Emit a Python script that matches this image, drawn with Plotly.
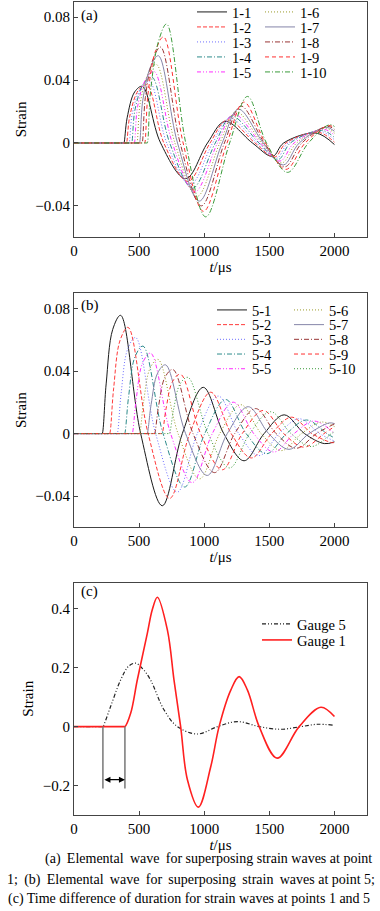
import plotly.graph_objects as go

W, H = 380, 911
FONT = "Liberation Serif"

# ---------------- Panel (a): elemental waves at point 1 ----------------
a_names = ["1-1", "1-2", "1-3", "1-4", "1-5", "1-6", "1-7", "1-8", "1-9", "1-10"]
a_t1 = [0, 380, 383, 408, 466, 525, 665, 858, 1025, 1160, 1370, 1525, 1610, 1858, 2000]
a_v1 = [0, 0, 0, 0.016, 0.0325, 0.036, 0, -0.0227, 0, 0.0137, 0, -0.0085, 0, 0.0063, -0.001]
a_t2 = [0, 400, 403, 428, 494, 560, 690, 875, 1045, 1178, 1390, 1540, 1628, 1875, 2000]
a_v2 = [0, 0, 0, 0.017, 0.0335, 0.037, 0, -0.0245, 0, 0.0147, 0, -0.009, 0, 0.0068, 0.0005]
a_t3 = [0, 420, 423, 448, 514, 580, 712, 892, 1065, 1195, 1405, 1555, 1645, 1890, 2000]
a_v3 = [0, 0, 0, 0.019, 0.035, 0.039, 0, -0.0265, 0, 0.0158, 0, -0.0097, 0, 0.0074, 0.002]
a_t4 = [0, 440, 443, 468, 533, 598, 735, 910, 1085, 1212, 1420, 1568, 1662, 1902, 2000]
a_v4 = [0, 0, 0, 0.021, 0.0375, 0.042, 0, -0.0288, 0, 0.017, 0, -0.0105, 0, 0.008, 0.0035]
a_t5 = [0, 460, 463, 488, 551, 615, 755, 927, 1102, 1228, 1432, 1582, 1690, 1915, 2000]
a_v5 = [0, 0, 0, 0.023, 0.0405, 0.0455, 0, -0.0312, 0, 0.0183, 0, -0.0115, 0, 0.0087, 0.005]
a_t6 = [0, 480, 483, 508, 570, 632, 775, 945, 1120, 1245, 1443, 1595, 1710, 1925, 2000]
a_v6 = [0, 0, 0, 0.025, 0.044, 0.05, 0, -0.034, 0, 0.0198, 0, -0.0127, 0, 0.0094, 0.0063]
a_t7 = [0, 500, 503, 528, 588, 648, 795, 962, 1138, 1263, 1453, 1607, 1730, 1935, 2000]
a_v7 = [0, 0, 0, 0.027, 0.0485, 0.0555, 0, -0.037, 0, 0.0215, 0, -0.014, 0, 0.01, 0.0075]
a_t8 = [0, 520, 523, 548, 606, 665, 815, 978, 1155, 1282, 1462, 1618, 1750, 1943, 2000]
a_v8 = [0, 0, 0, 0.029, 0.053, 0.061, 0, -0.04, 0, 0.0235, 0, -0.0152, 0, 0.0106, 0.0087]
a_t9 = [0, 540, 543, 568, 628, 688, 838, 995, 1175, 1305, 1470, 1628, 1775, 1952, 2000]
a_v9 = [0, 0, 0, 0.031, 0.059, 0.0675, 0, -0.0435, 0, 0.026, 0, -0.0168, 0, 0.0111, 0.0097]
a_t10 = [0, 560, 563, 588, 650, 711, 858, 1012, 1195, 1332, 1478, 1640, 1800, 1960, 2000]
a_v10 = [0, 0, 0, 0.033, 0.065, 0.0757, 0, -0.047, 0, 0.0296, 0, -0.0187, 0, 0.0116, 0.0105]

# ---------------- Panel (b): elemental waves at point 5 ----------------
b_names = ["5-1", "5-2", "5-3", "5-4", "5-5", "5-6", "5-7", "5-8", "5-9", "5-10"]
b_t1 = [0, 214, 217, 247, 297, 358, 512, 678, 832, 993, 1150, 1306, 1460, 1614, 1770, 1922, 2000]
b_v1 = [0, 0, 0, 0.0318, 0.0666, 0.0757, 0, -0.0462, 0, 0.0296, 0, -0.0174, 0, 0.012, 0, -0.0064, -0.0053]
b_t2 = [0, 271, 274, 304, 354, 415, 569, 735, 889, 1050, 1207, 1363, 1517, 1671, 1827, 1979, 2000]
b_v2 = [0, 0, 0, 0.0286, 0.0598, 0.068, 0, -0.0415, 0, 0.0265, 0, -0.0156, 0, 0.0105, 0, -0.0058, -0.0057]
b_t3 = [0, 329, 332, 362, 412, 473, 627, 793, 947, 1108, 1265, 1421, 1575, 1729, 1885, 2000]
b_v3 = [0, 0, 0, 0.0258, 0.0541, 0.0615, 0, -0.0375, 0, 0.024, 0, -0.0141, 0, 0.0095, 0, -0.0048]
b_t4 = [0, 386, 389, 419, 469, 530, 684, 850, 1004, 1165, 1322, 1478, 1632, 1786, 1942, 2000]
b_v4 = [0, 0, 0, 0.0235, 0.0493, 0.056, 0, -0.0342, 0, 0.0218, 0, -0.0129, 0, 0.0087, 0, -0.0028]
b_t5 = [0, 444, 447, 477, 527, 588, 742, 908, 1062, 1223, 1380, 1536, 1690, 1844, 2000]
b_v5 = [0, 0, 0, 0.0216, 0.0453, 0.0515, 0, -0.0314, 0, 0.0201, 0, -0.0118, 0, 0.008, 0]
b_t6 = [0, 501, 504, 534, 584, 645, 799, 965, 1119, 1280, 1437, 1593, 1747, 1901, 2000]
b_v6 = [0, 0, 0, 0.02, 0.0418, 0.0475, 0, -0.029, 0, 0.0185, 0, -0.0109, 0, 0.0074, 0.0045]
b_t7 = [0, 559, 562, 592, 642, 703, 857, 1023, 1177, 1338, 1495, 1651, 1805, 1959, 2000]
b_v7 = [0, 0, 0, 0.0185, 0.0387, 0.044, 0, -0.0268, 0, 0.0172, 0, -0.0101, 0, 0.0068, 0.0064]
b_t8 = [0, 616, 619, 649, 699, 760, 914, 1080, 1234, 1395, 1552, 1708, 1862, 2000]
b_v8 = [0, 0, 0, 0.0172, 0.0361, 0.041, 0, -0.025, 0, 0.016, 0, -0.0094, 0, 0.0062]
b_t9 = [0, 674, 677, 707, 757, 818, 972, 1138, 1292, 1453, 1610, 1766, 1920, 2000]
b_v9 = [0, 0, 0, 0.016, 0.0334, 0.038, 0, -0.0232, 0, 0.0148, 0, -0.0087, 0, 0.0045]
b_t10 = [0, 731, 734, 764, 814, 875, 1029, 1195, 1349, 1510, 1667, 1823, 1977, 2000]
b_v10 = [0, 0, 0, 0.0151, 0.0317, 0.036, 0, -0.022, 0, 0.014, 0, -0.0083, 0, 0.0012]

# ---------------- Panel (c): gauges 5 and 1 ----------------
c_names = ["Gauge 5", "Gauge 1"]
g5_t = [0, 219, 222, 281, 358, 420, 473, 530, 588, 691, 794, 948, 1102, 1255, 1422, 1588, 1742, 1870, 1986]
g5_v = [0, 0, 0, 0.068, 0.158, 0.205, 0.215, 0.195, 0.158, 0.057, 0, -0.025, 0, 0.017, 0, -0.009, 0, 0.008, 0.005]
g1_t = [0, 388, 391, 435, 486, 563, 601, 640, 717, 768, 819, 871, 955, 1050, 1114, 1204, 1268, 1332, 1422, 1560, 1729, 1896, 2000]
g1_v = [0, 0, 0, 0.045, 0.158, 0.316, 0.396, 0.4386, 0.328, 0.158, 0, -0.18, -0.273, -0.136, 0, 0.124, 0.1695, 0.124, 0, -0.107, 0, 0.0657, 0.034]
g5_start = g5_t[2]
g1_start = g1_t[2]

x_ticks = [0, 500, 1000, 1500, 2000]
ab_yticks = [-0.04, 0, 0.04, 0.08]
c_yticks = [-0.2, 0, 0.2, 0.4]

caption = [
    "(a) Elemental wave for superposing strain waves at point",
    "1; (b) Elemental wave for superposing strain waves at point 5;",
    "(c) Time difference of duration for strain waves at points 1 and 5",
]

# ---------------- styles ----------------
colors = ["#1a1a1a", "#ff3b3b", "#6f6fff", "#2e8b8b", "#ff2eff",
          "#9a9a2a", "#8585a8", "#993535", "#ff3030", "#3a9a3a"]
dashes_a = ["solid", "4px,2px", "1px,2px", "5px,2px,1px,2px", "4px,2px,1px,2px,1px,2px",
            "1px,2px", "solid", "5px,2px,1px,2px", "4px,3px", "5px,2px,1px,2px"]
dashes_b = ["solid", "4px,2px", "1px,2px", "5px,2px,1px,2px", "4px,2px,1px,2px,1px,2px",
            "1px,2px", "solid", "5px,2px,1px,2px", "4px,3px", "1px,2px"]

def px_x(p):
    return p / W

def px_y(p):
    return 1 - p / H

def dom(top, bottom):
    return [1 - bottom / H, 1 - top / H]

def widen(text, n):
    # justify a caption line: add a thin space after the first n word gaps
    parts = text.split(" ")
    out = parts[0]
    for i, p in enumerate(parts[1:]):
        out += (" \u2009" if i < n else " ") + p
    return out

fig = go.Figure()
legend_layouts = {}
lcount = [0]

def add_legend(text_x, y_center):
    lcount[0] += 1
    key = "legend" if lcount[0] == 1 else f"legend{lcount[0]}"
    legend_layouts[key] = dict(
        x=px_x(text_x - 40), y=px_y(y_center), xanchor="left", yanchor="middle",
        bgcolor="rgba(0,0,0,0)", borderwidth=0, itemwidth=30,
        font=dict(family=FONT, size=14.5, color="#000"), tracegroupgap=0,
    )
    return key

a_t = [a_t1, a_t2, a_t3, a_t4, a_t5, a_t6, a_t7, a_t8, a_t9, a_t10]
a_v = [a_v1, a_v2, a_v3, a_v4, a_v5, a_v6, a_v7, a_v8, a_v9, a_v10]
b_t = [b_t1, b_t2, b_t3, b_t4, b_t5, b_t6, b_t7, b_t8, b_t9, b_t10]
b_v = [b_v1, b_v2, b_v3, b_v4, b_v5, b_v6, b_v7, b_v8, b_v9, b_v10]

# panel a traces
for i in range(10):
    col, row = divmod(i, 5)
    tx = 232 if col == 0 else 300
    ly = 12 + 15 * row
    lg = add_legend(tx, ly)
    fig.add_trace(go.Scatter(
        x=a_t[i], y=a_v[i], name=a_names[i], mode="lines",
        line=dict(color=colors[i], width=1, dash=dashes_a[i], shape="spline", smoothing=1),
        xaxis="x", yaxis="y", legend=lg, hoverinfo="skip"))

# panel b traces
for i in range(10):
    col, row = divmod(i, 5)
    tx = 252 if col == 0 else 329
    ly = 310 + 14.7 * row
    lg = add_legend(tx, ly)
    fig.add_trace(go.Scatter(
        x=b_t[i], y=b_v[i], name=b_names[i], mode="lines",
        line=dict(color=colors[i], width=1, dash=dashes_b[i], shape="spline", smoothing=1),
        xaxis="x2", yaxis="y2", legend=lg, hoverinfo="skip"))

# panel c traces
lg = add_legend(297, 624)
fig.add_trace(go.Scatter(
    x=g5_t, y=g5_v, name=c_names[0], mode="lines",
    line=dict(color="#222", width=1.2, dash="4px,2px,1px,2px,1px,2px", shape="spline", smoothing=1),
    xaxis="x3", yaxis="y3", legend=lg, hoverinfo="skip"))
lg = add_legend(297, 640)
fig.add_trace(go.Scatter(
    x=g1_t, y=g1_v, name=c_names[1], mode="lines",
    line=dict(color="#ff2020", width=1.6, shape="spline", smoothing=1),
    xaxis="x3", yaxis="y3", legend=lg, hoverinfo="skip"))

axis_common = dict(
    showgrid=False, zeroline=False, showline=True, linecolor="#444", linewidth=1,
    mirror=True, ticks="inside", ticklen=4, tickcolor="#444", tickwidth=1,
    tickfont=dict(family=FONT, size=15, color="#000"), automargin=False,
)
xdom = [74 / W, 367 / W]

def xaxis(anchor):
    return dict(axis_common, domain=xdom, range=[0, 2250], tickvals=x_ticks, anchor=anchor,
                title=dict(text="<i>t</i>/μs", font=dict(family=FONT, size=15, color="#000"), standoff=0))

def yaxis(anchor, d, rng, tv):
    return dict(axis_common, domain=d, range=rng, tickvals=tv, anchor=anchor,
                title=dict(text="Strain", font=dict(family=FONT, size=15, color="#000"), standoff=5))

layout = dict(
    width=W, height=H, margin=dict(l=0, r=0, t=0, b=0, autoexpand=False),
    paper_bgcolor="white", plot_bgcolor="white",
    showlegend=True,
    xaxis=xaxis("y"), yaxis=yaxis("x", dom(1.5, 237.3), [-0.06, 0.09], ab_yticks),
    xaxis2=xaxis("y2"), yaxis2=yaxis("x2", dom(293, 527.3), [-0.06, 0.09], ab_yticks),
    xaxis3=xaxis("y3"), yaxis3=yaxis("x3", dom(583, 814.5), [-0.298, 0.487], c_yticks),
)
layout.update(legend_layouts)
fig.update_layout(**layout)

# panel labels
for lab, yc in [("(a)", 15.5), ("(b)", 305.5), ("(c)", 591)]:
    fig.add_annotation(text=lab, xref="paper", yref="paper", x=px_x(79), y=px_y(yc),
                       xanchor="left", yanchor="middle", showarrow=False,
                       font=dict(family=FONT, size=15, color="#000"))

# panel c: duration markers
for xs in [g5_start, g1_start]:
    fig.add_shape(type="line", xref="x3", yref="y3", x0=xs, x1=xs, y0=0, y1=-0.21,
                  line=dict(color="#777", width=1.5))
fig.add_annotation(xref="x3", yref="y3", x=g1_start, y=-0.18, ax=g5_start, ay=-0.18,
                   axref="x3", ayref="y3", text="", showarrow=True, arrowside="end+start",
                   arrowhead=2, startarrowhead=2, arrowsize=1, startarrowsize=1,
                   arrowwidth=1.2, arrowcolor="#000")

# caption
fig.add_annotation(text=widen(caption[0], 3), xref="paper", yref="paper", x=px_x(374), y=px_y(859),
                   xanchor="right", yanchor="middle", showarrow=False,
                   font=dict(family=FONT, size=14, color="#000"))
fig.add_annotation(text=widen(caption[1], 7), xref="paper", yref="paper", x=px_x(5), y=px_y(880),
                   xanchor="left", yanchor="middle", showarrow=False,
                   font=dict(family=FONT, size=14, color="#000"))
fig.add_annotation(text=caption[2], xref="paper", yref="paper", x=px_x(6), y=px_y(899),
                   xanchor="left", yanchor="middle", showarrow=False,
                   font=dict(family=FONT, size=14, color="#000"))

fig.write_html("out.html", config={"displayModeBar": False},
               post_script="document.body.style.margin='0px';document.body.style.overflow='hidden';")
